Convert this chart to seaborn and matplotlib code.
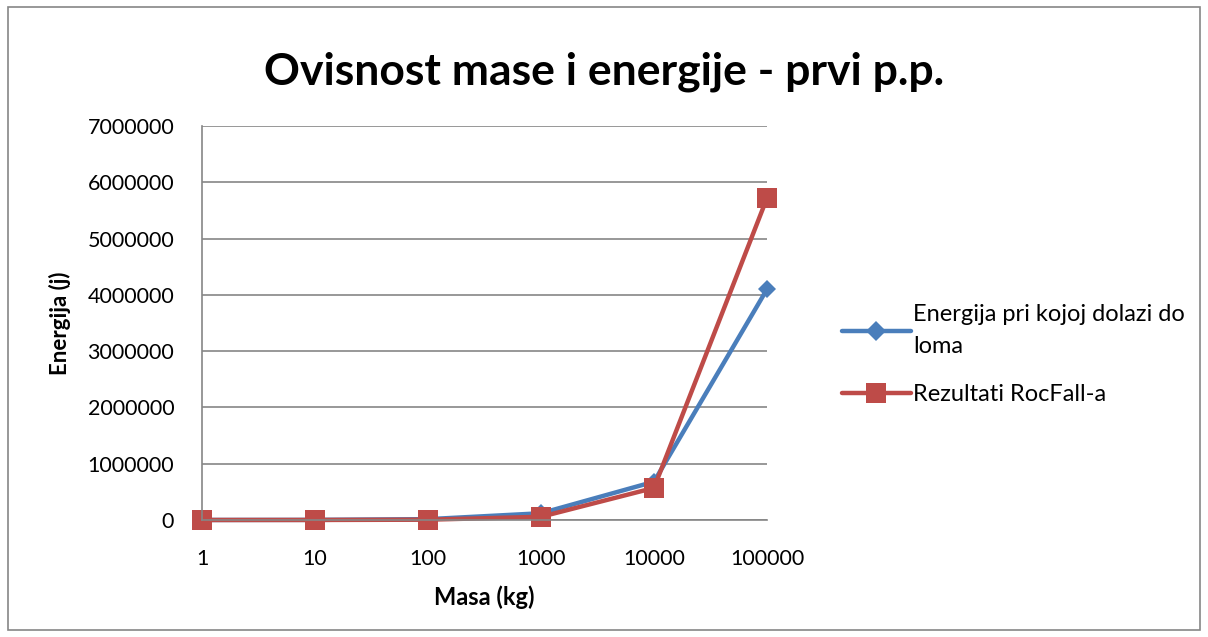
import matplotlib
matplotlib.use("Agg")
import matplotlib.pyplot as plt
import seaborn as sns
import pandas as pd
from matplotlib.patches import Rectangle

# Masses (kg) and energies (J)
masa = ["1", "10", "100", "1000", "10000", "100000"]
energija_loma = [500, 2000, 15000, 120000, 680000, 4100000]
rocfall = [60, 570, 5700, 57000, 570000, 5720000]

label_loma = "Energija pri kojoj dolazi do\nloma"
label_rocfall = "Rezultati RocFall-a"

df = pd.DataFrame({
    "pos": list(range(len(masa))) * 2,
    "energija": energija_loma + rocfall,
    "serija": [label_loma] * len(masa) + [label_rocfall] * len(masa),
})

sns.set_theme(style="white")
plt.rcParams["font.family"] = ["Lato", "DejaVu Sans"]
plt.rcParams["text.color"] = "black"

fig = plt.figure(figsize=(12.08, 6.37), dpi=100)
ax = fig.add_axes([202 / 1208, 1 - 520 / 637, (767 - 202) / 1208, (520 - 126) / 637])

palette = {label_loma: "#4A7EBB", label_rocfall: "#BE4B48"}
sns.lineplot(data=df, x="pos", y="energija", hue="serija", style="serija",
             markers={label_loma: "D", label_rocfall: "s"}, dashes=False,
             palette=palette, linewidth=3.2, ax=ax, legend=False)
for line, ms in zip(ax.lines, [9, 14]):
    line.set_markersize(ms)
    line.set_markeredgewidth(0)
    line.set_clip_on(False)

ax.set_xlim(0, len(masa) - 1)
ax.set_ylim(0, 7000000)
ax.set_xticks(range(len(masa)))
ax.set_xticklabels(masa)
ax.set_yticks(range(0, 7000001, 1000000))
ax.set_yticklabels([str(v) for v in range(0, 7000001, 1000000)])
ax.tick_params(axis="both", labelsize=15.5, colors="black", length=0)
ax.tick_params(axis="x", pad=21)
ax.tick_params(axis="y", pad=20)
ax.yaxis.grid(True, color="#868686", linewidth=1.2)
ax.set_axisbelow(True)
for side in ["top", "right"]:
    ax.spines[side].set_visible(False)
for side in ["left", "bottom"]:
    ax.spines[side].set_color("#868686")
    ax.spines[side].set_linewidth(1.2)

ax.set_xlabel("Masa (kg)", fontsize=17, fontweight="bold", labelpad=12,
              color="black")
ax.set_ylabel("Energija (j)", fontsize=16, fontweight="bold", labelpad=12,
              color="black")
fig.text(0.5, 1 - 72 / 637, "Ovisnost mase i energije - prvi p.p.",
         ha="center", va="center", fontsize=32, fontweight="bold",
         color="black")

# Legend
handles = [
    plt.Line2D([], [], color=palette[label_loma], marker="D", markersize=10,
               markeredgewidth=0, linewidth=3.2),
    plt.Line2D([], [], color=palette[label_rocfall], marker="s", markersize=14,
               markeredgewidth=0, linewidth=3.2),
]
leg = fig.legend(handles, [label_loma, label_rocfall], loc="upper left",
                 bbox_to_anchor=(821 / 1208, 1 - 283 / 637), frameon=False,
                 fontsize=17, handlelength=2.9, handletextpad=0.1,
                 labelspacing=1.15)
for t in leg.get_texts():
    t.set_linespacing(1.65)

# Chart border
fig.patches.append(Rectangle((8 / 1208, 7 / 637), 1192 / 1208, 623 / 637,
                             transform=fig.transFigure, fill=False,
                             edgecolor="#868686", linewidth=1.2))

fig.savefig("out.png", dpi=100)
